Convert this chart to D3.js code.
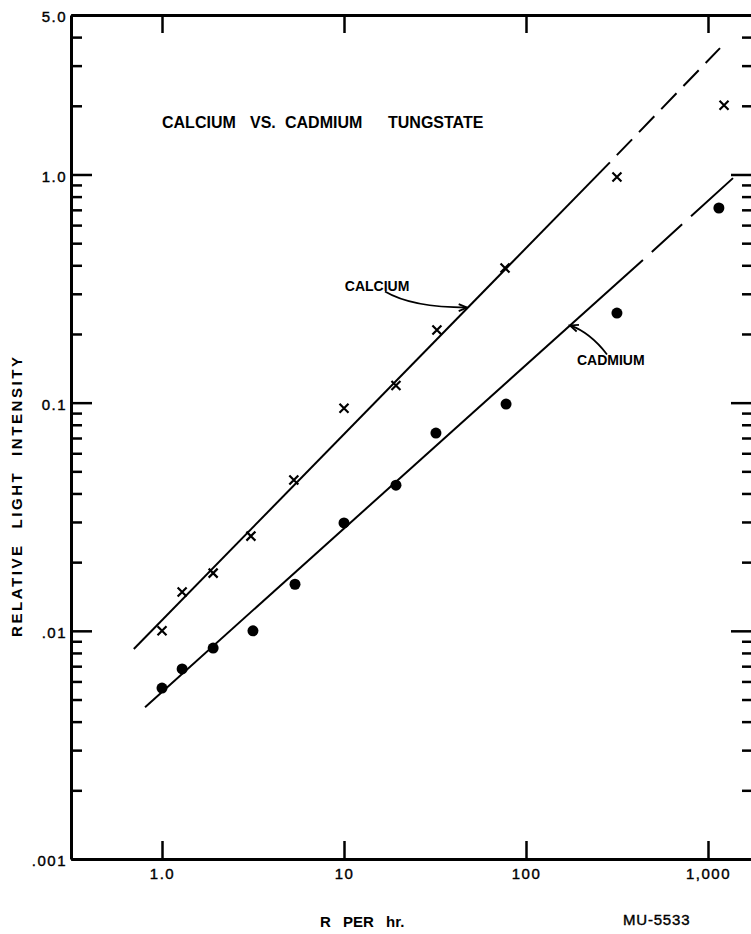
<!DOCTYPE html>
<html>
<head>
<meta charset="utf-8">
<script src="https://cdn.jsdelivr.net/npm/d3@7"></script>
<style>
  body { margin: 0; background: #fff; }
  svg { display: block; }
  text { fill: #000; }
</style>
</head>
<body>
<svg id="chart" width="751" height="934"></svg>
<script>
// calcium tungstate (x marks)
var rateCa = [1.0, 1.29, 1.91, 3.08, 5.3, 10, 19.3, 32.4, 76.7, 316, 1225];
var lightCa = [0.0100, 0.0148, 0.0179, 0.0260, 0.0458, 0.0946, 0.119, 0.208, 0.389, 0.975, 2.01];

// cadmium tungstate (dots)
var rateCd = [1.0, 1.29, 1.91, 3.16, 5.38, 10, 19.3, 32, 77.7, 316, 1148];
var lightCd = [0.00561, 0.00681, 0.0084, 0.0100, 0.0160, 0.0297, 0.0435, 0.0736, 0.0986, 0.247, 0.713];

// fitted lines: solid part, then dashed extrapolation
var fitCa = [[0.70, 0.00832], [289, 1.13]];
var extCa = [[289, 1.13], [1164, 3.58]];
var fitCd = [[0.807, 0.00463], [439, 0.422]];
var extCd = [[439, 0.422], [1372, 0.964]];

var xTicks = [1, 10, 100, 1000];
var xTickLabels = ["1.0", "10", "100", "1,000"];
var yTicks = [5, 1, 0.1, 0.01, 0.001];
var yTickLabels = ["5.0", "1.0", "0.1", ".01", ".001"];

var svg = d3.select("#chart"),
    margin = { top: 15, right: 752, bottom: 859, left: 71 };

var x = d3.scaleLog().domain([0.3162, 1745]).range([margin.left, margin.right]);
var y = d3.scaleLog().domain([0.001, 5]).range([margin.bottom, margin.top]);

// minor ticks 2..9 in every decade
var yMinor = [];
[0.001, 0.01, 0.1, 1].forEach(function (d) {
    for (var k = 2; k <= 9; k++) {
        if (d * k < 5) yMinor.push(d * k);
    }
});
var yMajor = [1, 0.1, 0.01, 0.001];

var font = "'Liberation Sans', Arial, sans-serif";

function styleAxis(g, size) {
    g.select(".domain").attr("stroke-width", 3).attr("stroke", "#000");
    g.selectAll(".tick line").attr("stroke-width", 2.5).attr("stroke", "#000");
    g.selectAll(".tick text")
        .attr("font-family", font)
        .attr("font-size", size)
        .attr("stroke", "#000").attr("stroke-width", 0.4)
        .attr("letter-spacing", 1.5);
}

// LEFT AXIS
svg.append("g").attr("transform", "translate(" + margin.left + ",0)")
    .call(d3.axisLeft(y).tickValues(yMinor).tickSizeInner(-11).tickSizeOuter(0).tickFormat(""))
    .call(function (g) { styleAxis(g, 15); g.select(".domain").remove(); });
svg.append("g").attr("transform", "translate(" + margin.left + ",0)")
    .call(d3.axisLeft(y).tickValues(yTicks).tickSizeInner(-21).tickSizeOuter(0).tickPadding(4)
        .tickFormat(function (d, i) { return yTickLabels[i]; }))
    .call(function (g) { styleAxis(g, 15); g.selectAll(".tick text").attr("dy", "0.45em"); });

// RIGHT AXIS (cut by the page edge)
svg.append("g").attr("transform", "translate(" + margin.right + ",0)")
    .call(d3.axisRight(y).tickValues(yMinor).tickSizeInner(-10).tickSizeOuter(0).tickFormat(""))
    .call(function (g) { styleAxis(g, 15); });
svg.append("g").attr("transform", "translate(" + margin.right + ",0)")
    .call(d3.axisRight(y).tickValues(yMajor).tickSizeInner(-21).tickSizeOuter(0).tickFormat(""))
    .call(function (g) { styleAxis(g, 15); });

// BOTTOM AXIS
svg.append("g").attr("transform", "translate(0," + margin.bottom + ")")
    .call(d3.axisBottom(x).tickValues(xTicks).tickSizeInner(-18).tickSizeOuter(0).tickPadding(9)
        .tickFormat(function (d, i) { return xTickLabels[i]; }))
    .call(function (g) { styleAxis(g, 15); });

// TOP AXIS
svg.append("g").attr("transform", "translate(0," + margin.top + ")")
    .call(d3.axisTop(x).tickValues(xTicks).tickSizeInner(-18).tickSizeOuter(0).tickFormat(""))
    .call(function (g) { styleAxis(g, 15); });

// FIT LINES
var line = d3.line()
    .x(function (d) { return x(d[0]); })
    .y(function (d) { return y(d[1]); });

svg.append("path").datum(fitCa).attr("d", line)
    .attr("fill", "none").attr("stroke", "#000").attr("stroke-width", 2);
svg.append("path").datum(extCa).attr("d", line)
    .attr("fill", "none").attr("stroke", "#000").attr("stroke-width", 2)
    .attr("stroke-dasharray", "22,10").attr("stroke-dashoffset", 22);
svg.append("path").datum(fitCd).attr("d", line)
    .attr("fill", "none").attr("stroke", "#000").attr("stroke-width", 2);
svg.append("path").datum(extCd).attr("d", line)
    .attr("fill", "none").attr("stroke", "#000").attr("stroke-width", 2)
    .attr("stroke-dasharray", "0,12,41,12,70");

// POINTS
var h = 4.5;
svg.append("g").selectAll("path")
    .data(rateCa)
    .enter().append("path")
    .attr("d", function (d, i) {
        var px = x(d), py = y(lightCa[i]);
        return "M" + (px - h) + "," + (py - h) + "L" + (px + h) + "," + (py + h) +
               "M" + (px - h) + "," + (py + h) + "L" + (px + h) + "," + (py - h);
    })
    .attr("stroke", "#000").attr("stroke-width", 2.2);

svg.append("g").selectAll("circle")
    .data(rateCd)
    .enter().append("circle")
    .attr("cx", function (d) { return x(d); })
    .attr("cy", function (d, i) { return y(lightCd[i]); })
    .attr("r", 5.5)
    .attr("fill", "#000");

// LABELS
var titleWords = ["CALCIUM", "VS.", "CADMIUM", "TUNGSTATE"];
var titleX = [162, 250, 285, 388];
svg.append("text")
    .attr("font-family", font).attr("font-weight", "bold").attr("font-size", 16)
    .selectAll("tspan")
    .data(titleWords)
    .enter().append("tspan")
    .attr("x", function (d, i) { return titleX[i]; })
    .attr("y", 128)
    .text(function (d) { return d; });

// annotation: label position, arrow tip on the fit line, curve offsets
function annotate(label, lx, ly, tip, tail, ctrl) {
    svg.append("text")
        .attr("x", x(lx)).attr("y", y(ly) + 5)
        .attr("font-family", font).attr("font-weight", "bold").attr("font-size", 14)
        .text(label);
    var tx = x(tip[0]), ty = y(tip[1]);
    var cx = tx + ctrl[0], cy = ty + ctrl[1];
    svg.append("path")
        .attr("d", "M" + (tx + tail[0]) + "," + (ty + tail[1]) + "Q" + cx + "," + cy + " " + tx + "," + ty)
        .attr("fill", "none").attr("stroke", "#000").attr("stroke-width", 1.8);
    var a = Math.atan2(ty - cy, tx - cx);
    var len = 9, spread = 0.4;
    svg.append("path")
        .attr("d", "M" + (tx - len * Math.cos(a - spread)) + "," + (ty - len * Math.sin(a - spread)) +
              "L" + tx + "," + ty +
              "L" + (tx - len * Math.cos(a + spread)) + "," + (ty - len * Math.sin(a + spread)))
        .attr("fill", "none").attr("stroke", "#000").attr("stroke-width", 1.8);
}
annotate("CALCIUM", 10.1, 0.324, [47.4, 0.261], [-82, -16], [-55, 0]);
annotate("CADMIUM", 190.6, 0.154, [174.5, 0.218], [37, 29], [20, 7]);

svg.append("text")
    .attr("transform", "translate(22,497) rotate(-90)")
    .attr("text-anchor", "middle")
    .attr("font-family", font).attr("font-weight", "bold").attr("font-size", 15)
    .attr("textLength", 280).attr("lengthAdjust", "spacing")
    .attr("word-spacing", 8)
    .text("RELATIVE LIGHT INTENSITY");

svg.append("text")
    .attr("x", 320).attr("y", 927)
    .attr("font-family", font).attr("font-weight", "bold").attr("font-size", 15)
    .attr("word-spacing", 8)
    .text("R PER hr.");

svg.append("text")
    .attr("x", 623).attr("y", 925)
    .attr("font-family", font).attr("font-size", 15)
    .attr("stroke", "#000").attr("stroke-width", 0.4)
    .attr("letter-spacing", 0.8)
    .text("MU-5533");
</script>
</body>
</html>
